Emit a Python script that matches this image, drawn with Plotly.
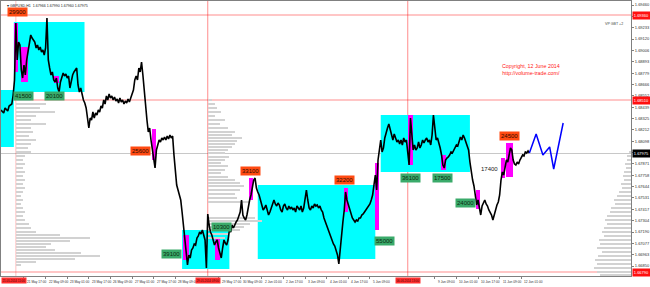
import plotly.graph_objects as go

# ---------------- data ----------------
# hourly bar index (trading hours counted from 21 May 2014 00:00) and close prices
hours = [0, 2, 3, 5, 6] + list(range(8, 392))
close = [1.6841, 1.6838, 1.6843, 1.6840, 1.6845,
         1.6847, 1.6856, 1.6871, 1.6928, 1.6891, 1.6909, 1.6906, 1.6881, 1.6873, 1.6886,
         1.6876, 1.6891, 1.6901, 1.6911, 1.6916, 1.6913, 1.6911, 1.6909, 1.6903, 1.6906,
         1.6901, 1.6904, 1.6899, 1.6901, 1.6896, 1.6903, 1.6933, 1.6891, 1.6883, 1.6876,
         1.6879, 1.6871, 1.6869, 1.6873, 1.6863, 1.6859, 1.6869, 1.6873, 1.6878, 1.6875,
         1.6877, 1.6873, 1.6875, 1.6863, 1.6871, 1.6876, 1.6879, 1.6881, 1.6883, 1.6866,
         1.6859, 1.6863, 1.6856, 1.6851, 1.6848, 1.6843, 1.6833, 1.6823, 1.6833, 1.6831,
         1.6839, 1.6833, 1.6838, 1.6836, 1.6841, 1.6839, 1.6845, 1.6843, 1.6851, 1.6847,
         1.6855, 1.6851, 1.6857, 1.6853, 1.6855, 1.6851, 1.6854, 1.6850, 1.6852, 1.6848,
         1.6853, 1.6849, 1.6851, 1.6847, 1.6850, 1.6848, 1.6852, 1.6849, 1.6853, 1.6857,
         1.6861, 1.6871, 1.6875, 1.6871, 1.6883, 1.6879, 1.6889, 1.6876, 1.6859, 1.6851,
         1.6831, 1.6819, 1.6823, 1.6811, 1.6801, 1.6791, 1.6783, 1.6801, 1.6806, 1.6811,
         1.6809, 1.6813, 1.6811, 1.6814, 1.6811, 1.6815, 1.6812, 1.6816, 1.6813, 1.6815,
         1.6796, 1.6776, 1.6766, 1.6761, 1.6756, 1.6751, 1.6739, 1.6726, 1.6711, 1.6693,
         1.6686, 1.6696, 1.6693, 1.6701, 1.6703, 1.6707, 1.6706, 1.6713, 1.6715, 1.6719,
         1.6717, 1.6721, 1.6716, 1.6711, 1.6683, 1.6737, 1.6726, 1.6719, 1.6716, 1.6711,
         1.6706, 1.6709, 1.6711, 1.6703, 1.6699, 1.6693, 1.6703, 1.6711, 1.6708, 1.6706,
         1.6711, 1.6721, 1.6719, 1.6726, 1.6723, 1.6727, 1.6729, 1.6731, 1.6736, 1.6739,
         1.6751, 1.6736, 1.6733, 1.6731, 1.6736, 1.6746, 1.6751, 1.6756, 1.6763, 1.6771,
         1.6773, 1.6763, 1.6759, 1.6756, 1.6751, 1.6746, 1.6741, 1.6743, 1.6746, 1.6741,
         1.6736, 1.6739, 1.6743, 1.6746, 1.6751, 1.6747, 1.6745, 1.6748, 1.6746, 1.6741,
         1.6739, 1.6745, 1.6747, 1.6743, 1.6741, 1.6745, 1.6742, 1.6744, 1.6741, 1.6743,
         1.6739, 1.6745, 1.6743, 1.6741, 1.6745, 1.6739, 1.6743, 1.6751, 1.6761, 1.6751,
         1.6743, 1.6741, 1.6745, 1.6743, 1.6747, 1.6745, 1.6746, 1.6743, 1.6745, 1.6741,
         1.6739, 1.6733, 1.6729, 1.6726, 1.6721, 1.6717, 1.6715, 1.6711, 1.6707, 1.6705,
         1.6701, 1.6696, 1.6687, 1.6703, 1.6716, 1.6729, 1.6741, 1.6759, 1.6751, 1.6746,
         1.6741, 1.6736, 1.6733, 1.6731, 1.6729, 1.6731, 1.6730, 1.6733, 1.6733, 1.6736,
         1.6737, 1.6739, 1.6741, 1.6743, 1.6745, 1.6747, 1.6751, 1.6756, 1.6766, 1.6776,
         1.6761, 1.6791, 1.6801, 1.6811, 1.6799, 1.6803, 1.6813, 1.6819, 1.6823, 1.6827,
         1.6821, 1.6815, 1.6811, 1.6817, 1.6813, 1.6809, 1.6811, 1.6807, 1.6811, 1.6806,
         1.6813, 1.6809, 1.6811, 1.6801, 1.6786, 1.6833, 1.6811, 1.6801, 1.6806, 1.6801,
         1.6803, 1.6809, 1.6803, 1.6806, 1.6811, 1.6808, 1.6811, 1.6813, 1.6809, 1.6811,
         1.6806, 1.6816, 1.6836, 1.6821, 1.6811, 1.6813, 1.6809, 1.6803, 1.6796, 1.6786,
         1.6783, 1.6791, 1.6793, 1.6794, 1.6796, 1.6799, 1.6798, 1.6801, 1.6803, 1.6806,
         1.6805, 1.6811, 1.6814, 1.6811, 1.6816, 1.6813, 1.6809, 1.6803, 1.6801, 1.6789,
         1.6779, 1.6771, 1.6765, 1.6756, 1.6746, 1.6751, 1.6743, 1.6736, 1.6745, 1.6749,
         1.6751, 1.6747, 1.6745, 1.6741, 1.6739, 1.6736, 1.6731, 1.6737, 1.6741, 1.6746,
         1.6749, 1.6756, 1.6771, 1.6779, 1.6776, 1.6783, 1.6791, 1.6789, 1.6796, 1.6803,
         1.6801, 1.6791, 1.6787, 1.6786, 1.6789, 1.6787, 1.6791, 1.6793, 1.6796, 1.6795,
         1.6799, 1.6798, 1.6800, 1.6798]

# forecast (blue)
fc_hours = [391, 396, 401, 406, 409, 416]
fc_price = [1.6798, 1.6817, 1.6796, 1.6804, 1.6782, 1.6828]

# cyan zones
box_h0 = [0, 9.5, 134, 190, 281]
box_h1 = [9.5, 61.8, 169, 277, 347]
box_lo = [1.6804, 1.6859, 1.6682, 1.6692, 1.6779]
box_hi = [1.6861, 1.6929, 1.6721, 1.6766, 1.6836]

# magenta highlighted bars
mag_h0 = [9.6, 14.7, 39, 111.8, 134.6, 158, 183.8, 253.7, 277, 301.5, 325.7, 351.5, 370, 374]
mag_h1 = [12.5, 19.9, 42.6, 114.7, 139, 161.8, 186.8, 256.6, 280, 305, 329.4, 354.4, 372.8, 378.7]
mag_lo = [1.6879, 1.6869, 1.6868, 1.6791, 1.6691, 1.6691, 1.6751, 1.6739, 1.6721, 1.6786, 1.6781, 1.6742, 1.6773, 1.6774]
mag_hi = [1.6928, 1.6904, 1.6875, 1.6822, 1.6716, 1.6712, 1.6773, 1.6763, 1.6788, 1.6836, 1.6796, 1.6761, 1.6793, 1.6808]

# volume profiles: price level and length in hours
vp1_anchor = 11
vp1_price = [1.6851, 1.6847, 1.6843, 1.6839, 1.6835, 1.6831, 1.6827, 1.6823, 1.6819, 1.6815,
             1.6811, 1.6807, 1.6803, 1.6799, 1.6795, 1.6791, 1.6787, 1.6783, 1.6779, 1.6775,
             1.6771, 1.6767, 1.6763, 1.6759, 1.6755, 1.6751, 1.6747, 1.6743, 1.6739, 1.6735,
             1.6731, 1.6727, 1.6723, 1.6719, 1.6716, 1.6713, 1.6710, 1.6707, 1.6704, 1.6701,
             1.6698, 1.6695, 1.6692, 1.6689, 1.6686]
vp1_len = [11, 22, 18, 29, 15, 11, 22, 11, 13, 10,
           15, 11, 9, 11, 7, 5, 7, 5, 7, 5,
           7, 5, 7, 5, 4, 5, 4, 5, 7, 5,
           7, 10, 11, 15, 33, 55, 40, 26, 22, 29,
           48, 62, 44, 15, 4]

zone_price = [1.6909, 1.6905, 1.6902, 1.6898, 1.6894, 1.6890, 1.6886, 1.6879, 1.6874, 1.6872, 1.6869]
zone_len = [62, 70, 62, 60, 57, 54, 51, 79, 77, 62, 55]
zone_poc_price = [1.6881, 1.6876]
zone_poc_len = [83, 86]

vp2_anchor = 153
vp2_price = [1.6851, 1.6847, 1.6843, 1.6839, 1.6835, 1.6831, 1.6827, 1.6823, 1.6819, 1.6816,
             1.6813, 1.6810, 1.6807, 1.6804, 1.6801, 1.6798, 1.6794, 1.6791, 1.6788, 1.6785,
             1.6781, 1.6778, 1.6774, 1.6771, 1.6768, 1.6765, 1.6761, 1.6757, 1.6753, 1.6749,
             1.6733, 1.6730, 1.6727, 1.6724, 1.6721, 1.6717, 1.6713]
vp2_len = [3, 5, 7, 10, 5, 12.5, 9, 15, 20, 18,
           25, 22, 20, 18, 15, 12.5, 16, 12.5, 10, 15,
           12.5, 10, 15, 20, 23.5, 27, 23.5, 20, 22, 31,
           35, 40, 31, 27, 23.5, 16, 12.5]
vp2_poc_price = [1.6746, 1.6743, 1.6740, 1.6737]
vp2_poc_len = [90, 82, 90, 68]

vp3_anchor = 301
vp3_price = [1.6809, 1.6806, 1.6803, 1.6800, 1.6797, 1.6791]
vp3_len = [45.6, 44, 48, 43, 45.6, 44]
vp3_poc_price = [1.6794, 1.6788]
vp3_poc_len = [53, 53]

vpr_anchor = 466.2
vpr_price = [1.6799, 1.6795, 1.6791, 1.6787, 1.6783, 1.6779, 1.6775, 1.6771, 1.6767, 1.6763,
             1.6759, 1.6755, 1.6751, 1.6747, 1.6743, 1.6739, 1.6735, 1.6731, 1.6727, 1.6723,
             1.6719, 1.6715, 1.6711, 1.6707, 1.6703, 1.6699, 1.6695, 1.6691, 1.6687, 1.6683,
             1.6679, 1.6676]
vpr_len = [1.5, 3, 3, 4.4, 3.7, 5, 6, 5, 7.4, 6.6,
           8.8, 10.3, 12.5, 11.8, 14.7, 15.4, 17.6, 19, 17.6, 19.9,
           21.3, 19.9, 23.5, 22.8, 25, 21.3, 24.3, 26.5, 25, 27.2,
           25, 22.8]

# level labels
red_lbl_text = ["29900", "25600", "33100", "32200", "24500"]
red_lbl_h = [12, 103, 184.5, 254, 376]
red_lbl_p = [1.69395, 1.6800, 1.6780, 1.6771, 1.6815]
grn_lbl_text = ["41500", "20100", "39100", "10300", "55000", "36100", "17500", "24000"]
grn_lbl_h = [16.5, 39.7, 126, 163, 283.5, 303, 327, 344]
grn_lbl_p = [1.68555, 1.68555, 1.6697, 1.67245, 1.67105, 1.67735, 1.6773, 1.67485]
plain_lbl_text = ["17400"]
plain_lbl_h = [361.5]
plain_lbl_p = [1.6782]

# lines
vline_h = [11, 153, 301]
vline_text = ["21.05.2014 11:00", "29.05.2014 09:00", "06.06.2014 13:00"]
hline_p = [1.6936, 1.6851, 1.6679]
hline_text = ["1.69360", "1.68510", "1.66790"]
last_price = 1.67975

# axis ticks (labels hidden under the line markers are not shown)
date_tick_h = [17, 33, 49, 65, 81, 97, 113, 129, 161, 177, 193, 209, 225, 241, 257,
               273, 321, 337, 353, 369, 385]
date_tick_text = ["21 May 17:00", "22 May 09:00", "23 May 01:00", "23 May 17:00", "26 May 09:00",
                  "27 May 01:00", "27 May 17:00", "28 May 09:00", "29 May 17:00",
                  "30 May 09:00", "2 Jun 01:00", "2 Jun 17:00", "3 Jun 09:00", "4 Jun 01:00",
                  "4 Jun 17:00", "5 Jun 09:00", "9 Jun 09:00",
                  "10 Jun 01:00", "10 Jun 17:00", "11 Jun 09:00", "12 Jun 01:00"]
price_ticks = [1.69460, 1.69347, 1.69233, 1.69120, 1.69006, 1.68893, 1.68779, 1.68666,
               1.68552, 1.68439, 1.68325, 1.68212, 1.68098, 1.67985, 1.67871, 1.67758,
               1.67644, 1.67531, 1.67417, 1.67304, 1.67190, 1.67077, 1.66963, 1.66850]

X_RANGE = [0, 466.2]
Y_RANGE = [1.6675, 1.6950]
FONT = "Arial"

# ---------------- figure ----------------
fig = go.Figure()

def hbars(prices, lens, anchor, color, width=0.000032, leftward=False):
    if leftward:
        base = [anchor - l for l in lens]
    else:
        base = [anchor] * len(lens)
    fig.add_trace(go.Bar(y=prices, x=lens, base=base, orientation="h", width=width,
                         marker=dict(color=color, line=dict(width=0)),
                         hoverinfo="skip", showlegend=False))

gray = "#d2d2d2"
hbars(vp1_price, vp1_len, vp1_anchor, gray)
hbars(vp2_price, vp2_len, vp2_anchor, gray)
hbars(vpr_price, vpr_len, vpr_anchor, gray, width=0.00004, leftward=True)
hbars(zone_price, zone_len, vp1_anchor, "rgba(110,110,110,0.35)", width=0.00002)
hbars(zone_poc_price, zone_poc_len, vp1_anchor, "rgba(255,90,90,0.55)", width=0.00002)
hbars(vp2_poc_price, vp2_poc_len, vp2_anchor, "rgba(255,90,90,0.45)", width=0.00002)
hbars(vp3_price, vp3_len, vp3_anchor, "rgba(110,110,110,0.35)", width=0.00002)
hbars(vp3_poc_price, vp3_poc_len, vp3_anchor, "rgba(255,60,60,0.7)", width=0.00001)

# magenta bars
fig.add_trace(go.Bar(x=[(a + b) / 2 for a, b in zip(mag_h0, mag_h1)],
                     y=[h - l for h, l in zip(mag_hi, mag_lo)],
                     base=mag_lo,
                     width=[b - a for a, b in zip(mag_h0, mag_h1)],
                     marker=dict(color="#ff00ff", line=dict(width=0)),
                     hoverinfo="skip", showlegend=False))

# price
fig.add_trace(go.Scatter(x=hours, y=close, mode="lines",
                         line=dict(color="black", width=1.6), hoverinfo="skip", showlegend=False))
# forecast
fig.add_trace(go.Scatter(x=fc_hours, y=fc_price, mode="lines",
                         line=dict(color="#0000ff", width=1.5), hoverinfo="skip", showlegend=False))

shapes = []
for h0, h1, lo, hi in zip(box_h0, box_h1, box_lo, box_hi):
    shapes.append(dict(type="rect", xref="x", yref="y", x0=h0, x1=h1, y0=lo, y1=hi,
                       fillcolor="#00ffff", line=dict(width=0), layer="below"))
shapes.append(dict(type="line", xref="paper", yref="y", x0=0, x1=1, y0=last_price, y1=last_price,
                   line=dict(color="#c8c8c8", width=1), layer="below"))
for p in hline_p:
    shapes.append(dict(type="line", xref="paper", yref="y", x0=0, x1=1, y0=p, y1=p,
                       line=dict(color="rgba(255,0,0,0.3)", width=1.5), layer="below"))
for i, h in enumerate(vline_h):
    shapes.append(dict(type="line", xref="x", yref="paper", x0=h, x1=h, y0=0, y1=1,
                       line=dict(color="rgba(255,0,0,0.25)" if i == 0 else "rgba(255,0,0,0.45)", width=1),
                       layer="below"))

annotations = []
for t, h, p in zip(red_lbl_text, red_lbl_h, red_lbl_p):
    annotations.append(dict(x=h, y=p, xref="x", yref="y", text=t, showarrow=False,
                            bgcolor="#ff4a12", borderpad=1,
                            font=dict(size=6, color="#2a0a00", family=FONT)))
for t, h, p in zip(grn_lbl_text, grn_lbl_h, grn_lbl_p):
    annotations.append(dict(x=h, y=p, xref="x", yref="y", text=t, showarrow=False,
                            bgcolor="#3aaa6a", borderpad=1,
                            font=dict(size=6, color="#0a2a10", family=FONT)))
for t, h, p in zip(plain_lbl_text, plain_lbl_h, plain_lbl_p):
    annotations.append(dict(x=h, y=p, xref="x", yref="y", text=t, showarrow=False,
                            font=dict(size=6, color="#202020", family=FONT)))
for h, t in zip(date_tick_h, date_tick_text):
    annotations.append(dict(x=h, y=-0.006, xref="x", yref="paper", text=t, showarrow=False,
                            xanchor="left", yanchor="top", xshift=1,
                            font=dict(size=3.2, color="#303030", family=FONT)))
for i, (h, t) in enumerate(zip(vline_h, vline_text)):
    annotations.append(dict(x=0 if i == 0 else h, y=-0.004, xref="x", yref="paper", text=t,
                            showarrow=False, xanchor="left" if i == 0 else "center",
                            yanchor="top", bgcolor="#ff3030", borderpad=0.5,
                            font=dict(size=2.9, color="#500000", family=FONT)))
for p, t in zip(hline_p, hline_text):
    annotations.append(dict(x=1, y=p, xref="paper", yref="y", text=t, showarrow=False,
                            xanchor="left", xshift=1, bgcolor="#ff1010", borderpad=0.8,
                            font=dict(size=4, color="white", family=FONT)))
annotations.append(dict(x=1, y=last_price, xref="paper", yref="y", text="1.67975", showarrow=False,
                        xanchor="left", xshift=1, bgcolor="#000000", borderpad=0.8,
                        font=dict(size=4, color="white", family=FONT)))
annotations.append(dict(x=0.007, y=0.995, xref="paper", yref="paper",
                        text="▾ GBPUSD,H1  1.67966 1.67990 1.67960 1.67975", showarrow=False,
                        xanchor="left", yanchor="top",
                        font=dict(size=3.6, color="#202020", family=FONT)))
annotations.append(dict(x=0.99, y=0.915, xref="paper", yref="paper", text="VP GBT +2",
                        showarrow=False, xanchor="right", yanchor="middle",
                        font=dict(size=3.6, color="#404040", family=FONT)))
annotations.append(dict(x=0.842, y=0.75, xref="paper", yref="paper",
                        text="Copyright, 12 June 2014<br>http://volume-trade.com/",
                        showarrow=False, xanchor="center", yanchor="middle",
                        font=dict(size=5.3, color="#ff2020", family=FONT)))

fig.update_layout(
    width=650, height=287,
    margin=dict(l=0, r=16, t=1, b=11),
    paper_bgcolor="white", plot_bgcolor="white",
    barmode="overlay", bargap=0,
    shapes=shapes, annotations=annotations,
    showlegend=False,
    xaxis=dict(range=X_RANGE, showgrid=False, zeroline=False, showline=True, mirror=True,
               linecolor="#808080", linewidth=1, tickvals=date_tick_h, ticks="outside",
               ticklen=2, tickcolor="#808080", showticklabels=False, fixedrange=True),
    yaxis=dict(range=Y_RANGE, side="right", showgrid=False, zeroline=False, showline=True,
               mirror=True, linecolor="#808080", linewidth=1, tickvals=price_ticks,
               tickformat=".5f", ticks="outside", ticklen=2, tickcolor="#808080",
               tickfont=dict(size=4, color="#303030", family=FONT), fixedrange=True),
)

fig.write_html("out.html")
